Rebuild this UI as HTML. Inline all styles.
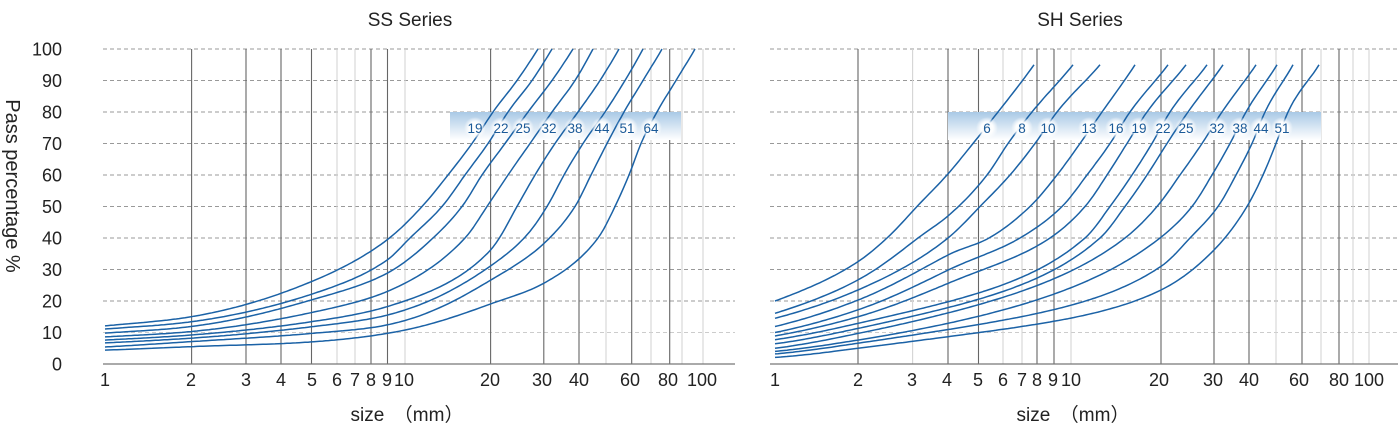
<!DOCTYPE html>
<html><head><meta charset="utf-8"><style>
html,body{margin:0;padding:0;background:#fff;width:1400px;height:435px;overflow:hidden}
svg{display:block}
text{font-family:"Liberation Sans","Noto Sans CJK JP",sans-serif;fill:#222}
</style></head><body>
<svg id="s" width="1400" height="435" viewBox="0 0 1400 435" xmlns="http://www.w3.org/2000/svg">
<defs>
<linearGradient id="bg" x1="0" y1="0" x2="0" y2="1">
<stop offset="0" stop-color="#a9c9e6"/><stop offset="1" stop-color="#ffffff"/>
</linearGradient>
<radialGradient id="glow"><stop offset="0.55" stop-color="#fff" stop-opacity="0.95"/><stop offset="1" stop-color="#fff" stop-opacity="0"/></radialGradient>
</defs>
<text x="410" y="26" font-size="19" text-anchor="middle">SS Series</text>
<text x="1080" y="26" font-size="19" text-anchor="middle">SH Series</text>
<text transform="translate(6,186) rotate(90)" font-size="20" text-anchor="middle">Pass percentage %</text>
<text x="407" y="421" font-size="19" text-anchor="middle">size　（mm）</text>
<text x="1073" y="421" font-size="19" text-anchor="middle">size　（mm）</text>
<g id="g"></g>
</svg>
<script>
var NS="http://www.w3.org/2000/svg",g=document.getElementById('g');
function el(t,a,txt){var e=document.createElementNS(NS,t);for(var k in a)e.setAttribute(k,a[k]);if(txt!=null)e.textContent=txt;g.appendChild(e);return e;}
for(var i=0;i<=10;i++){var y=49+i*31.5;el('text',{x:62,y:y+6.5,'font-size':18,'text-anchor':'end'},String(100-i*10));}
function Y(p){return 364-p*3.15;}
function mono(P){
 var n=P.length,xs=P.map(function(p){return p[0]}),ys=P.map(function(p){return Math.log(p[1])});
 var d=[],m=[];
 for(var i=0;i<n-1;i++)d.push((ys[i+1]-ys[i])/(xs[i+1]-xs[i]));
 m[0]=d[0];m[n-1]=d[n-2];
 for(var i=1;i<n-1;i++){m[i]=(d[i-1]*d[i]<=0)?0:(d[i-1]+d[i])/2;}
 for(var i=0;i<n-1;i++){if(d[i]==0){m[i]=m[i+1]=0;continue;}var a=m[i]/d[i],b=m[i+1]/d[i],s=a*a+b*b;if(s>9){var t=3/Math.sqrt(s);m[i]=t*a*d[i];m[i+1]=t*b*d[i];}}
 var pts=[];
 for(var i=0;i<n-1;i++){var h=xs[i+1]-xs[i],N=Math.max(2,Math.ceil(h/3));
  for(var k=(i==0?0:1);k<=N;k++){var t=k/N,t2=t*t,t3=t2*t;
   var v=(2*t3-3*t2+1)*ys[i]+(t3-2*t2+t)*h*m[i]+(-2*t3+3*t2)*ys[i+1]+(t3-t2)*h*m[i+1];
   pts.push((xs[i]+t*h).toFixed(1)+','+Y(Math.exp(v)).toFixed(1));}}
 return 'M'+pts.join(' L');
}
function chart(x0,x1,vl,ticks,band,labels,curves){
 for(var i=0;i<10;i++){var y=49+i*31.5;el('line',{x1:x0,x2:x1,y1:y,y2:y,stroke:(i==9?'#ccc':'#999'),'stroke-width':1,'stroke-dasharray':'4,3'});}
 vl.forEach(function(v){el('line',{x1:v[0],x2:v[0],y1:49,y2:364,stroke:v[1]?'#666':'#d4d4d4','stroke-width':1.1});});
 el('line',{x1:x0,x2:x1,y1:364,y2:364,stroke:'#777','stroke-width':1.2});
 ticks.forEach(function(t){el('text',{x:t[0],y:386,'font-size':18,'text-anchor':'middle'},t[1]);});
 el('rect',{x:band[0],y:112,width:band[1]-band[0],height:28,fill:'url(#bg)'});
 curves.forEach(function(c){el('path',{d:mono(c),fill:'none',stroke:'#1b62a6','stroke-width':1.5,'stroke-linejoin':'round'});});
 labels.forEach(function(l){el('circle',{cx:l[0],cy:128,r:11,fill:'url(#glow)'});el('text',{x:l[0],y:133,'font-size':13.5,'text-anchor':'middle',style:'fill:#1b5a98'},l[1]);});
}
var L=[[191.6,1],[246,1],[281,1],[311.5,1],[337,0],[355,0],[371,1],[387.5,1],[405,0],[490.6,1],[543.8,1],[579,1],[606,0],[631.7,1],[651,0],[669.7,1],[682,0],[703,0]];
var LT=[[105,'1'],[191,'2'],[246,'3'],[281,'4'],[312,'5'],[337,'6'],[355,'7'],[371,'8'],[387,'9'],[404,'10'],[490,'20'],[542,'30'],[579,'40'],[630,'60'],[668,'80'],[702,'100']];
var LC=[
[[105,12.1],[191,15],[311,26.1],[387,39.4],[422,50],[448,60],[472,70],[493,80],[517,90],[538,100]],
[[105,11.1],[191,13.4],[311,22.1],[387,33],[410,40],[442,50],[465,60],[488,70],[508,80],[532,90],[552,100]],
[[105,9.8],[191,11.9],[311,20.3],[387,28.8],[433,40],[462,50],[482,60],[505,70],[528,80],[552,90],[573,100]],
[[105,8.6],[191,10.3],[311,16.3],[387,23],[465,40],[487,50],[508,60],[530,70],[552,80],[575,90],[593,100]],
[[105,7.6],[191,9.2],[311,13.4],[387,18.2],[490,36],[517,50],[535,60],[555,70],[578,80],[600,90],[619,100]],
[[105,6.7],[191,8.2],[311,11.8],[387,15.5],[490,31],[527,41],[547,50],[564,60],[583,70],[605,80],[625,90],[643,100]],
[[105,5.4],[191,7.1],[311,9.7],[387,12.4],[490,26.5],[543,38],[575,50],[591,60],[607,70],[624,80],[643,90],[662,100]],
[[105,4.4],[191,5.5],[311,7],[387,9.7],[490,19],[543,25.5],[598,40],[615,50],[629,60],[641,70],[657,80],[676,90],[695,100]]
];
chart(103,735,L,LT,[450,681],[[475,'19'],[501,'22'],[523,'25'],[549,'32'],[575,'38'],[602,'44'],[627,'51'],[651,'64']],LC);
var R=[[858,1],[912.6,0],[948,1],[978.5,1],[1003,0],[1022,0],[1037,1],[1054,1],[1071,0],[1161,1],[1214,1],[1249,1],[1276,0],[1302,1],[1321,0],[1339,1],[1353,0],[1369,0]];
var RT=[[775,'1'],[858,'2'],[912,'3'],[947,'4'],[978,'5'],[1003,'6'],[1022,'7'],[1037,'8'],[1053,'9'],[1071,'10'],[1159,'20'],[1213,'30'],[1249,'40'],[1299,'60'],[1339,'80'],[1369,'100']];
var RC=[
[[775,20],[858,32.5],[887,40],[917,50],[947,60],[973,70],[998,80],[1034,95]],
[[775,16.1],[858,26.7],[918,40],[948,47],[987,60],[1008,70],[1032,80],[1073,95]],
[[775,14.5],[858,23.5],[948,40],[980,50],[1010,60],[1035,70],[1057,80],[1100,95]],
[[775,11.9],[858,20.3],[948,34.6],[989,40],[1030,50],[1057,60],[1080,70],[1102,80],[1135,95]],
[[775,10],[858,17.2],[948,29.8],[1020,40],[1062,50],[1087,60],[1110,70],[1130,80],[1168,95]],
[[775,8.9],[858,15],[948,25.6],[1050,40],[1085,50],[1107,60],[1127,70],[1147,80],[1186,95]],
[[775,7.7],[858,12.9],[1085,40],[1110,50],[1132,60],[1152,70],[1170,80],[1207,95]],
[[775,6.4],[858,11.3],[1100,40],[1125,50],[1147,60],[1167,70],[1188,80],[1223,95]],
[[775,5],[858,9.7],[1125,40],[1157,50],[1180,60],[1202,70],[1222,80],[1256,95]],
[[775,4],[858,7.6],[1160,40],[1192,50],[1212,60],[1230,70],[1246,80],[1277,95]],
[[775,3.2],[858,6.6],[1161,31],[1190,40],[1218,50],[1236,60],[1252,70],[1265,80],[1293,95]],
[[775,2.1],[858,5],[1161,23.5],[1214,36.2],[1247,50],[1263,60],[1276,70],[1288,80],[1319,95]]
];
chart(770,1398,R,RT,[948,1321],[[987,'6'],[1022,'8'],[1048,'10'],[1089,'13'],[1116,'16'],[1139,'19'],[1163,'22'],[1186,'25'],[1217,'32'],[1240,'38'],[1261,'44'],[1282,'51']],RC);
</script>
</body></html>
